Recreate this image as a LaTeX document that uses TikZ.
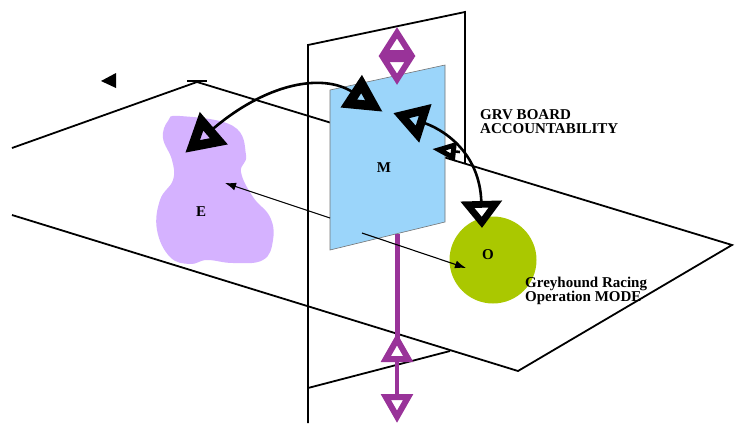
\documentclass[tikz,border=0pt]{standalone}
\usepackage{fontspec}
\setmainfont{Liberation Serif}
\usetikzlibrary{arrows.meta}

\definecolor{paneblue}{RGB}{155,213,250}
\definecolor{blobpurple}{RGB}{213,178,255}
\definecolor{modegreen}{RGB}{170,200,0}
\definecolor{axispurple}{RGB}{153,51,153}

\begin{document}
\begin{tikzpicture}[> = {Latex[length = 11pt, width = 8pt]}, x = 1pt, y = -1pt,
        plane/.style = {line width = 1.8pt, line join = miter},
        lbl/.style = {font = \bfseries\fontsize{15}{14}\selectfont, inner sep = 0pt},
        link/.style = {->, line width = 1.1pt},
        axis/.style = {draw = axispurple, line width = 4.5pt},
        swing/.style = {line width = 2.6pt}]

        \useasboundingbox (0,0) rectangle (735,423);

        % Defining corners of the floor plane.
        \coordinate (F1) at (12,148);
        \coordinate (F2) at (197,82);
        \coordinate (F3) at (732,245);
        \coordinate (F4) at (518,371);
        \coordinate (F5) at (12,215);

        % Draw the floor plane and the upright plane.
        \draw[plane] (F1) to (F2) to (F3) to (F4) to (F5);
        \draw[line width = 1.4pt] (187,81) to (207,81);
        \draw[plane] (308,423) to (308,45) to (465,12) to (465,163);
        \draw[plane] (308,388) to (450,351);
        \fill (101,81) to (116,73) to (116,88) to cycle;

        % Fill in the E cloud and the O disc.
        \fill[blobpurple] plot[smooth cycle, tension = 0.7] coordinates {
            (180,116) (233,126) (246,155) (241,172) (253,197) (270,217)
            (273,240) (263,260) (233,263) (207,260) (190,264) (170,257)
            (157,230) (160,200) (173,180) (172,160) (163,138) (168,121)};
        \node[circle, fill = modegreen, minimum size = 87pt, inner sep = 0pt] (O) at (493,260) {};

        % Fill in the M pane.
        \draw[fill = paneblue, draw = black!55, line width = 0.6pt]
            (330,90) to (445,65) to (445,222) to (330,250) to cycle;

        % Mark the purple axis through the pane.
        \draw[axis, {Triangle[open, length = 29pt, width = 35pt, line width = 6pt]}-{Triangle[open, length = 29pt, width = 35pt, line width = 6pt]}]
            (397,27) to (397,85);
        \draw[axis, line width = 5pt] (397,234) to (397,338);
        \draw[axis, {Triangle[open, length = 29pt, width = 31pt, line width = 6pt]}-{Triangle[open, length = 29pt, width = 31pt, line width = 6pt]}]
            (397,333) to (397,423);

        % Defining ends of the arrows.
        \coordinate (Mleft) at (330,218);
        \coordinate (Ein) at (225,183);
        \coordinate (Mlow) at (362,233);
        \coordinate (Oin) at (466,268);
        \coordinate (MtopA) at (383,112);
        \coordinate (Etop) at (185,153);
        \coordinate (MtopB) at (393,113);
        \coordinate (Otop) at (482,228);

        % Thin arrows out of the pane.
        \draw[link] (Mleft) to (Ein);
        \draw[link] (Mlow) to (Oin);

        % Heavy arrows over the top.
        \draw[swing, {Triangle[open, length = 38pt, width = 36pt, line width = 10pt]}-{Triangle[open, length = 38pt, width = 40pt, line width = 10pt]}]
            (MtopA) .. controls (322,72) and (265,84) .. (Etop);
        \draw[swing, {Triangle[open, length = 34pt, width = 38pt, line width = 9.5pt]}-{Triangle[open, length = 27pt, width = 40pt, line width = 10pt]}]
            (MtopB) .. controls (440,128) and (480,150) .. (Otop);
        \draw[swing, -{Triangle[open, length = 24pt, width = 18pt, line width = 5pt]}] (460,152) to (432,149);

        % Place the labels.
        \node[lbl] (Mtag) at (384,168) {M};
        \node[lbl] (Etag) at (201,212) {E};
        \node[lbl] (Otag) at (488,255) {O};
        \node[lbl, anchor = north west, align = left] (board) at (480,109) {GRV BOARD\\ACCOUNTABILITY};
        \node[lbl, anchor = north west, align = left] (mode) at (525,277) {Greyhound Racing\\Operation MODE};
    \end{tikzpicture}
\end{document}
